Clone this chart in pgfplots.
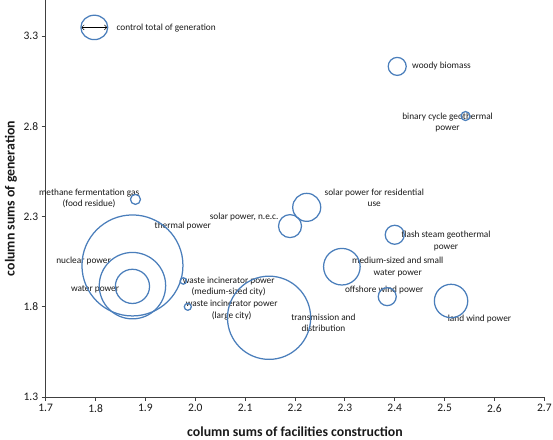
\documentclass[border=0pt]{standalone}
\usepackage{fontspec}
\setmainfont{Carlito}
\usepackage{pgfplots}
\pgfplotsset{compat=1.18}
\usepackage{pgfplotstable}
\usetikzlibrary{arrows.meta}
\definecolor{bubble}{HTML}{4A7EBB}
\definecolor{axisgray}{HTML}{404040}

\pgfplotstableread{
x      y      r
2.405  3.132  9.0
2.542  2.857  4.5
2.2235 2.351  14.0
2.190  2.247  11.5
2.400  2.199  9.5
2.294  2.022  18.3
2.385  1.856  9.0
2.513  1.832  16.7
2.148  1.739  41.6
1.880  2.395  5.0
1.874  2.029  50.5
1.874  1.917  33.2
1.874  1.913  17.1
1.976  1.943  3.2
1.985  1.800  3.5
}\bubbles

\begin{document}
\begin{tikzpicture}
\begin{axis}[
  scale only axis,
  width=498.6pt, height=397pt,
  xmin=1.7, xmax=2.7, ymin=1.3, ymax=3.5,
  xtick={1.7,1.8,1.9,2.0,2.1,2.2,2.3,2.4,2.5,2.6,2.7},
  ytick={1.3,1.8,2.3,2.8,3.3},
  axis x line*=bottom, axis y line*=left,
  axis line style={-, draw=axisgray, line width=0.9pt},
  tick align=outside, major tick length=4pt,
  tick style={draw=axisgray, line width=0.8pt},
  /pgf/number format/assume math mode=true,
  xticklabel style={/pgf/number format/.cd, fixed, fixed zerofill, precision=1},
  yticklabel style={/pgf/number format/.cd, fixed, fixed zerofill, precision=1},
  ticklabel style={font=\fontsize{11.5}{13}\selectfont, text=black!90},
  xlabel={column sums of facilities construction},
  ylabel={column sums of generation},
  every axis x label/.style={at={(axis description cs:0.5,-0.088)}, anchor=center, font=\bfseries\fontsize{13.8}{15}\selectfont},
  every axis y label/.style={at={(axis description cs:-0.0696,0.5)}, anchor=center, rotate=90, font=\bfseries\fontsize{13.8}{15}\selectfont},
  clip=false,
  nodes={font=\fontsize{9.3}{11.5}\selectfont, text=black!90},
]
\addplot[scatter, only marks, mark=o, line width=1.25pt,
  scatter/use mapped color={draw=bubble},
  visualization depends on={\thisrow{r}\as\rad},
  scatter/@pre marker code/.append style={/tikz/mark size=\rad}]
  table[x=x, y=y] {\bubbles};
\addplot[only marks, mark=o, draw=bubble, line width=1.25pt, mark size=12.2pt,
  mark options={xscale=1.1}] coordinates {(1.7975,3.348)};
\addplot[black, mark=none, line width=0.5pt, {Straight Barb[length=2.5pt]}-{Straight Barb[length=2.5pt]}]
  coordinates {(1.7715,3.348) (1.8235,3.348)};

\node[anchor=west] at (axis cs:1.835,3.345) {control total of generation};
\node[anchor=west] at (axis cs:2.428,3.132) {woody biomass};
\node[align=center] at (axis cs:2.506,2.821) {binary cycle geothermal\\power};
\node[align=center] at (axis cs:2.359,2.403) {solar power for residential\\use};
\node at (axis cs:2.098,2.300) {solar power, n.e.c.};
\node[align=center] at (axis cs:2.503,2.165) {flash steam geothermal\\power};
\node[align=center] at (axis cs:2.406,2.021) {medium-sized and small\\water power};
\node at (axis cs:2.379,1.893) {offshore wind power};
\node at (axis cs:2.570,1.734) {land wind power};
\node[align=center] at (axis cs:2.257,1.712) {transmission and\\distribution};
\node[align=center] at (axis cs:1.787,2.401) {methane fermentation gas\\(food residue)};
\node at (axis cs:1.975,2.250) {thermal power};
\node at (axis cs:1.776,2.052) {nuclear power};
\node at (axis cs:1.799,1.897) {water power};
\node[align=center] at (axis cs:2.067,1.911) {waste incinerator power\\(medium-sized city)};
\node[align=center] at (axis cs:2.073,1.781) {waste incinerator power\\(large city)};
\end{axis}
\pgfresetboundingbox
\path (current axis.south west) ++(-45.7pt,-43pt) -- (current axis.north east) -- ++(8.7pt,0pt);
\end{tikzpicture}
\end{document}
